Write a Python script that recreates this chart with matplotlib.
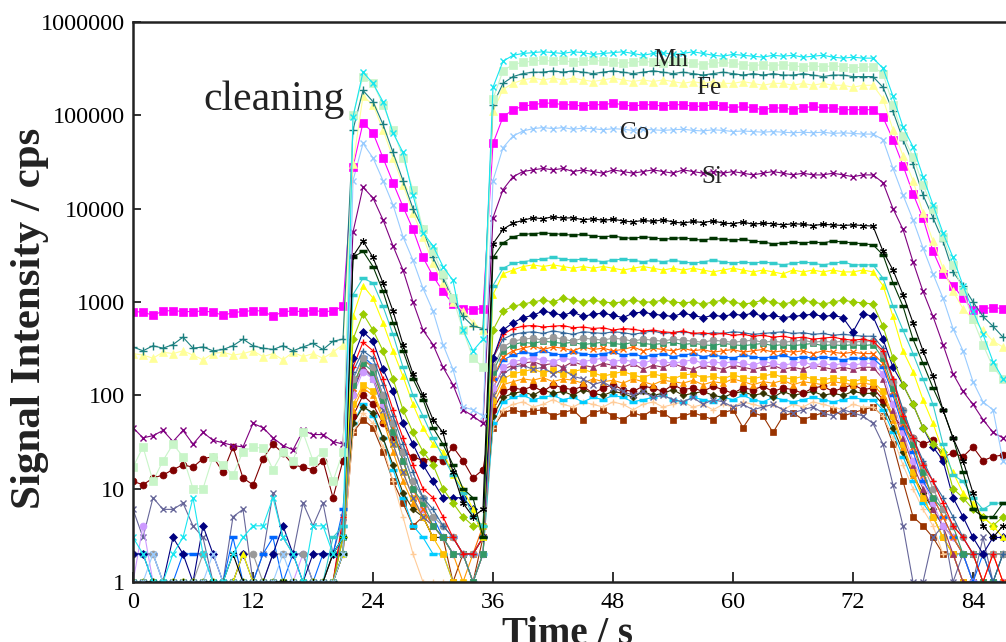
import numpy as np
import matplotlib
matplotlib.use("Agg")
import matplotlib.pyplot as plt

plt.rcParams['font.family'] = ['Liberation Serif', 'DejaVu Serif']

# time axis (s), one reading per second
time_s = np.arange(88)
x_ticks = [0, 12, 24, 36, 48, 60, 72, 84]
y_ticks = [1, 10, 100, 1000, 10000, 100000, 1000000]
y_tick_labels = ["1", "10", "100", "1000", "10000", "100000", "1000000"]

# ---- signal intensities (cps): gas blank 0-20 s, cleaning 21-35 s, ablation 36-74 s, washout 75-87 s
mn_x = ([3, 2, 1, 1, 2, 3, 8, 2, 1, 1, 2, 3, 4, 4, 8, 3, 2, 1, 4, 4, 2]
        + [3, 9.6e4, 2.9e5, 2.2e5, 1.4e5, 6.5e4, 4e4, 1.4e4, 5.5e3, 4e3, 2.4e3, 1.7e3, 500, 300, 400]
        + [2.0e5, 3.8e5, 4.4e5, 4.6e5, 4.7e5, 4.8e5, 4.7e5, 4.6e5, 4.8e5, 4.7e5, 4.5e5, 4.6e5, 4.7e5,
           4.8e5, 4.6e5, 4.4e5, 4.6e5, 4.7e5, 4.5e5, 4.6e5, 4.8e5, 4.6e5, 4.4e5, 4.3e5, 4.5e5, 4.4e5,
           4.3e5, 4.2e5, 4.4e5, 4.3e5, 4.4e5, 4.2e5, 4.3e5, 4.4e5, 4.2e5, 4.1e5, 4.2e5, 4.1e5, 4.1e5]
        + [3.2e5, 1.6e5, 7.5e4, 4.6e4, 2.2e4, 1.1e4, 5.5e3, 3e3, 1.5e3, 800, 450, 230, 150])
mn_sq = ([17, 28, 12, 20, 30, 22, 10, 10, 22, 18, 14, 25, 28, 27, 16, 25, 20, 40, 20, 25, 12]
         + [25, 1e5, 2.6e5, 2.2e5, 1.3e5, 7e4, 3.5e4, 1.6e4, 6e3, 3.5e3, 2e3, 1.1e3, 500, 250, 200]
         + [1.5e5, 3.0e5, 3.5e5, 3.7e5, 3.8e5, 3.9e5, 3.8e5, 3.9e5, 3.7e5, 3.8e5, 3.9e5, 3.8e5, 3.7e5,
            3.6e5, 3.7e5, 3.8e5, 3.7e5, 3.6e5, 3.8e5, 3.7e5, 3.6e5, 3.5e5, 3.6e5, 3.7e5, 3.6e5, 3.5e5,
            3.4e5, 3.5e5, 3.4e5, 3.5e5, 3.4e5, 3.3e5, 3.4e5, 3.3e5, 3.4e5, 3.3e5, 3.2e5, 3.3e5, 3.3e5]
         + [2.8e5, 1.3e5, 6e4, 3.6e4, 1.8e4, 1e4, 5e3, 2.5e3, 1.3e3, 650, 350, 200, 150])
fe_plus = ([330, 300, 340, 320, 350, 420, 320, 330, 300, 310, 340, 400, 340, 320, 310, 340, 300, 330, 360, 310, 380]
           + [400, 7e4, 1.85e5, 1.4e5, 8e4, 4e4, 2e4, 1e4, 6e3, 3e3, 1.8e3, 1.1e3, 700, 550, 520]
           + [1.3e5, 2.2e5, 2.6e5, 2.8e5, 2.9e5, 2.9e5, 3.0e5, 2.9e5, 3.0e5, 2.9e5, 2.8e5, 2.9e5, 3.0e5,
              2.9e5, 2.8e5, 2.9e5, 3.0e5, 2.9e5, 2.8e5, 2.9e5, 2.8e5, 2.7e5, 2.8e5, 2.9e5, 2.8e5, 2.7e5,
              2.8e5, 2.7e5, 2.8e5, 2.7e5, 2.7e5, 2.8e5, 2.7e5, 2.6e5, 2.7e5, 2.7e5, 2.6e5, 2.6e5, 2.6e5]
           + [2.0e5, 1.1e5, 5.5e4, 3e4, 1.4e4, 8e3, 4.5e3, 2.1e3, 1.5e3, 1e3, 700, 550, 420])
fe_tri = ([280, 270, 250, 290, 280, 300, 270, 240, 280, 290, 270, 280, 300, 260, 280, 240, 290, 260, 280, 250, 290]
          + [350, 3e4, 1.6e5, 1.3e5, 7e4, 3.5e4, 1.8e4, 9e3, 5e3, 2.6e3, 1.6e3, 1e3, 800, 600, 500]
          + [1.1e5, 1.9e5, 2.2e5, 2.4e5, 2.5e5, 2.4e5, 2.5e5, 2.4e5, 2.5e5, 2.4e5, 2.3e5, 2.4e5, 2.5e5,
             2.4e5, 2.3e5, 2.4e5, 2.3e5, 2.4e5, 2.3e5, 2.2e5, 2.3e5, 2.2e5, 2.3e5, 2.2e5, 2.2e5, 2.3e5,
             2.2e5, 2.1e5, 2.2e5, 2.2e5, 2.1e5, 2.2e5, 2.1e5, 2.2e5, 2.1e5, 2.1e5, 2.0e5, 2.1e5, 2.1e5]
          + [1.5e5, 7e4, 3.7e4, 2e4, 9e3, 4.5e3, 2.3e3, 1.3e3, 850, 650, 500, 380, 330])
magenta_sq = ([790, 780, 720, 800, 810, 790, 790, 800, 780, 720, 770, 790, 810, 800, 700, 790, 800, 790, 810, 790, 800]
              + [900, 2.8e4, 8.3e4, 6.5e4, 3.5e4, 1.9e4, 1.05e4, 6e3, 3e3, 1.9e3, 1.3e3, 950, 850, 830, 850]
              + [5.0e4, 9.6e4, 1.15e5, 1.25e5, 1.3e5, 1.35e5, 1.35e5, 1.3e5, 1.3e5, 1.25e5, 1.3e5, 1.3e5, 1.35e5,
                 1.3e5, 1.25e5, 1.3e5, 1.3e5, 1.25e5, 1.3e5, 1.3e5, 1.25e5, 1.25e5, 1.3e5, 1.25e5, 1.2e5, 1.25e5,
                 1.2e5, 1.15e5, 1.2e5, 1.2e5, 1.15e5, 1.2e5, 1.25e5, 1.2e5, 1.2e5, 1.15e5, 1.15e5, 1.15e5, 1.15e5]
              + [9.5e4, 5.5e4, 2.9e4, 1.45e4, 7.9e3, 3.5e3, 2e3, 1.5e3, 1.1e3, 830, 850, 870, 850])
co_x = ([1, 1, 2, 1, 1, 1, 1, 1, 2, 1, 1, 1, 1, 1, 1, 2, 1, 1, 1, 1, 1]
        + [2, 2e4, 5e4, 3.5e4, 2e4, 1.1e4, 5e3, 2.8e3, 1.4e3, 800, 350, 190, 75, 70, 60]
        + [2.0e4, 4.5e4, 6.0e4, 6.8e4, 7.2e4, 7.4e4, 7.2e4, 7.4e4, 7.1e4, 7.3e4, 7.2e4, 7.0e4, 7.2e4,
           7.1e4, 6.9e4, 7.1e4, 7.0e4, 6.9e4, 7.0e4, 7.1e4, 6.9e4, 6.8e4, 7.0e4, 6.9e4, 6.7e4, 6.8e4,
           6.7e4, 6.6e4, 6.7e4, 6.6e4, 6.5e4, 6.6e4, 6.5e4, 6.6e4, 6.4e4, 6.5e4, 6.4e4, 6.3e4, 6.3e4]
        + [5.5e4, 2.7e4, 1.4e4, 7.6e3, 3.8e3, 2e3, 1.1e3, 520, 300, 140, 85, 70, 20])
si_x = ([45, 35, 37, 42, 32, 42, 30, 40, 33, 31, 29, 28, 50, 45, 35, 29, 26, 42, 38, 38, 32]
        + [30, 5.6e3, 1.7e4, 1.3e4, 7.6e3, 4e3, 2.2e3, 1e3, 500, 350, 200, 130, 70, 60, 50]
        + [8e3, 1.6e4, 2.2e4, 2.5e4, 2.6e4, 2.7e4, 2.6e4, 2.7e4, 2.5e4, 2.6e4, 2.5e4, 2.4e4, 2.6e4,
           2.5e4, 2.4e4, 2.5e4, 2.6e4, 2.5e4, 2.4e4, 2.6e4, 2.5e4, 2.4e4, 2.5e4, 2.4e4, 2.5e4, 2.4e4,
           2.3e4, 2.4e4, 2.5e4, 2.4e4, 2.3e4, 2.4e4, 2.3e4, 2.3e4, 2.4e4, 2.3e4, 2.2e4, 2.3e4, 2.3e4]
        + [1.9e4, 1.0e4, 6e3, 2.7e3, 1.3e3, 700, 350, 170, 110, 80, 55, 40, 35])
black_ast = ([1, 1, 1, 1, 1, 1, 1, 1, 1, 1, 2, 1, 1, 1, 1, 1, 1, 1, 1, 1, 2]
             + [3, 3.1e3, 4.5e3, 3e3, 1.6e3, 800, 350, 170, 100, 55, 40, 15, 7, 5, 6]
             + [4.2e3, 6.0e3, 7.0e3, 7.5e3, 8.0e3, 7.8e3, 8.2e3, 7.9e3, 8.0e3, 7.6e3, 7.8e3, 7.5e3, 7.7e3,
                7.4e3, 7.2e3, 7.5e3, 7.3e3, 7.6e3, 7.2e3, 7.0e3, 7.3e3, 7.1e3, 7.4e3, 7.0e3, 6.9e3, 7.2e3,
                6.8e3, 7.0e3, 6.9e3, 6.7e3, 6.9e3, 6.8e3, 6.6e3, 6.8e3, 6.7e3, 6.6e3, 6.7e3, 6.6e3, 6.5e3]
             + [3.5e3, 2.2e3, 1.2e3, 600, 300, 160, 70, 35, 20, 9, 4, 3, 4])
dkgreen_bar = ([1, 1, 1, 1, 1, 1, 1, 1, 1, 1, 1, 1, 1, 1, 1, 1, 1, 1, 1, 1, 1]
               + [2, 3e3, 3.5e3, 2.4e3, 1.3e3, 600, 300, 150, 90, 45, 30, 18, 10, 8, 3]
               + [3.0e3, 4.3e3, 5.0e3, 5.3e3, 5.4e3, 5.5e3, 5.4e3, 5.3e3, 5.2e3, 5.3e3, 5.1e3, 5.0e3, 5.1e3,
                  4.9e3, 4.8e3, 5.0e3, 4.9e3, 4.7e3, 4.8e3, 4.9e3, 4.7e3, 4.6e3, 4.8e3, 4.7e3, 4.6e3, 4.7e3,
                  4.5e3, 4.4e3, 4.2e3, 4.3e3, 4.4e3, 4.3e3, 4.4e3, 4.3e3, 4.5e3, 4.4e3, 4.3e3, 4.2e3, 4.1e3]
               + [3.2e3, 1.6e3, 900, 400, 220, 120, 70, 35, 15, 6, 5, 5, 7])
teal_bar = ([1, 1, 1, 1, 1, 1, 1, 1, 1, 1, 1, 1, 1, 1, 1, 1, 1, 1, 1, 1, 3]
            + [4, 1.2e3, 1.8e3, 1.6e3, 900, 450, 200, 100, 60, 35, 22, 14, 9, 5, 4]
            + [1.5e3, 2.3e3, 2.6e3, 2.7e3, 2.8e3, 2.9e3, 3.0e3, 2.9e3, 2.8e3, 2.9e3, 2.8e3, 2.7e3, 2.8e3,
               2.9e3, 2.8e3, 2.7e3, 2.8e3, 2.7e3, 2.8e3, 2.7e3, 2.6e3, 2.7e3, 2.8e3, 2.7e3, 2.6e3, 2.7e3,
               2.6e3, 2.7e3, 2.6e3, 2.5e3, 2.6e3, 2.7e3, 2.6e3, 2.5e3, 2.6e3, 2.7e3, 2.5e3, 2.5e3, 2.5e3]
            + [1.8e3, 900, 500, 280, 150, 80, 30, 14, 12, 8, 6, 7, 7])
yellow_tri = ([1, 1, 1, 1, 1, 1, 1, 1, 1, 1, 1, 2, 1, 1, 1, 1, 1, 1, 1, 1, 1]
              + [2, 700, 1.5e3, 1.1e3, 600, 300, 160, 80, 45, 30, 25, 14, 10, 6, 3]
              + [1.2e3, 2.0e3, 2.2e3, 2.4e3, 2.5e3, 2.4e3, 2.5e3, 2.4e3, 2.3e3, 2.4e3, 2.3e3, 2.4e3, 2.3e3,
                 2.2e3, 2.3e3, 2.4e3, 2.3e3, 2.2e3, 2.3e3, 2.2e3, 2.3e3, 2.2e3, 2.1e3, 2.2e3, 2.3e3, 2.2e3,
                 2.1e3, 2.2e3, 2.1e3, 2.0e3, 2.2e3, 2.1e3, 2.2e3, 2.1e3, 2.2e3, 2.1e3, 2.1e3, 2.2e3, 2.1e3]
              + [1.5e3, 700, 300, 180, 90, 50, 25, 15, 9, 7, 5, 4, 3])
lime_dia = ([1, 1, 1, 1, 1, 1, 1, 1, 1, 1, 1, 1, 1, 1, 1, 1, 1, 1, 1, 1, 1]
            + [3, 400, 750, 500, 300, 150, 70, 40, 25, 18, 10, 7, 5, 4, 4]
            + [500, 800, 900, 950, 1000, 1050, 1000, 1100, 1050, 1000, 1050, 1000, 980, 1000, 1050, 1000,
               1000, 1050, 1000, 980, 1000, 950, 1000, 1050, 1000, 950, 980, 1050, 1000, 950, 1000, 1050,
               1000, 950, 1000, 1050, 1000, 980, 950]
            + [550, 250, 130, 80, 45, 30, 25, 10, 8, 6, 5, 4, 5])
navy_dia = ([2, 2, 1, 1, 3, 2, 1, 4, 2, 1, 1, 2, 1, 1, 2, 4, 2, 1, 2, 2, 2]
            + [3, 250, 480, 380, 190, 110, 50, 30, 18, 12, 8, 8, 8, 6, 3]
            + [250, 500, 600, 680, 720, 800, 760, 720, 780, 700, 740, 760, 720, 680, 760, 780, 740, 720,
               700, 760, 720, 680, 720, 700, 740, 720, 760, 700, 720, 680, 700, 720, 740, 700, 720, 680,
               480, 750, 700]
            + [400, 200, 130, 80, 45, 28, 20, 8, 5, 3, 2, 3, 3])
red_plus = ([1, 1, 1, 1, 1, 1, 1, 1, 1, 1, 1, 1, 1, 1, 1, 1, 1, 1, 1, 1, 1]
            + [5, 200, 370, 300, 150, 70, 35, 18, 10, 8, 5, 3, 2, 2, 3]
            + [250, 450, 520, 550, 560, 540, 550, 560, 530, 540, 520, 530, 500, 520, 510, 490, 500, 480,
               470, 490, 460, 470, 450, 460, 440, 450, 430, 440, 420, 430, 410, 420, 400, 410, 420, 400,
               390, 400, 380]
            + [300, 150, 60, 35, 18, 12, 7, 4, 3, 2, 1, 2, 1])
steel_plus = ([1, 1, 1, 1, 1, 1, 1, 1, 1, 1, 1, 1, 1, 1, 1, 1, 1, 1, 1, 1, 1]
              + [4, 180, 300, 250, 130, 60, 30, 15, 8, 6, 4, 3, 2, 2, 3]
              + [250, 400, 450, 470, 480, 460, 490, 470, 450, 480, 470, 460, 480, 470, 450, 470, 490, 460,
                 470, 480, 460, 450, 470, 460, 480, 470, 450, 460, 470, 480, 460, 470, 450, 460, 440, 450,
                 440, 430, 430]
              + [320, 150, 70, 35, 20, 12, 8, 5, 3, 2, 2, 1, 2])
gray_circ = ([2, 2, 2, 1, 1, 1, 1, 2, 1, 1, 1, 2, 2, 1, 2, 2, 2, 2, 1, 1, 2]
             + [3, 150, 250, 200, 100, 50, 25, 12, 8, 5, 4, 3, 2, 2, 3]
             + [200, 330, 380, 400, 410, 390, 420, 400, 380, 410, 400, 390, 410, 400, 380, 400, 390, 380,
                400, 390, 380, 370, 390, 380, 370, 380, 390, 370, 380, 370, 380, 390, 370, 380, 370, 380,
                370, 380, 380]
             + [280, 140, 70, 35, 18, 10, 6, 4, 3, 2, 2, 2, 2])
sea_sq = ([1, 1, 1, 1, 1, 1, 1, 1, 1, 1, 1, 1, 1, 1, 1, 1, 1, 1, 1, 1, 1]
          + [2, 130, 220, 180, 90, 40, 20, 10, 7, 4, 3, 2, 2, 1, 2]
          + [180, 300, 350, 370, 360, 380, 370, 360, 370, 350, 360, 370, 360, 350, 370, 360, 350, 360,
             370, 350, 360, 350, 340, 360, 350, 340, 350, 360, 340, 350, 340, 350, 360, 340, 350, 340,
             350, 340, 350]
          + [250, 120, 55, 30, 15, 8, 6, 4, 2, 2, 1, 1, 2])
orange_x = ([1, 1, 1, 1, 1, 1, 1, 1, 1, 1, 1, 1, 1, 1, 1, 1, 1, 1, 1, 1, 1]
            + [3, 120, 240, 200, 90, 45, 20, 10, 6, 4, 3, 3, 2, 2, 4]
            + [150, 260, 300, 320, 340, 310, 330, 320, 300, 330, 310, 320, 300, 310, 330, 300, 320, 310,
               300, 320, 300, 310, 290, 300, 310, 290, 300, 310, 290, 300, 290, 300, 280, 300, 290, 280,
               290, 280, 280]
            + [220, 110, 50, 28, 14, 8, 5, 3, 2, 2, 1, 2, 1])
blue_bar = ([2, 2, 2, 1, 1, 2, 2, 2, 1, 1, 3, 1, 1, 2, 3, 1, 2, 2, 1, 2, 2]
            + [6, 150, 260, 210, 100, 50, 24, 12, 8, 5, 3, 3, 2, 2, 3]
            + [150, 240, 270, 290, 280, 300, 280, 270, 290, 280, 270, 280, 290, 270, 280, 260, 270, 280,
               260, 270, 280, 260, 270, 260, 250, 270, 260, 250, 260, 270, 250, 260, 250, 260, 250, 240,
               250, 250, 250]
            + [200, 100, 45, 25, 12, 8, 5, 3, 2, 1, 2, 1, 1])
lilac_circ = ([1, 4, 1, 1, 1, 1, 1, 1, 1, 1, 1, 1, 1, 1, 1, 1, 1, 2, 1, 1, 1]
              + [2, 100, 180, 150, 80, 40, 20, 10, 6, 4, 3, 2, 2, 1, 2]
              + [120, 200, 230, 240, 250, 240, 230, 250, 240, 230, 240, 250, 230, 240, 230, 220, 240, 230,
                 220, 230, 240, 220, 230, 220, 230, 220, 210, 230, 220, 210, 220, 230, 210, 220, 210, 220,
                 210, 220, 220]
              + [170, 80, 40, 20, 12, 7, 4, 3, 2, 1, 1, 1, 1])
mauve_tri = ([1, 1, 1, 1, 1, 1, 1, 1, 1, 1, 1, 1, 1, 1, 1, 1, 1, 1, 1, 1, 1]
             + [2, 110, 200, 160, 80, 40, 20, 10, 6, 4, 3, 2, 2, 1, 2]
             + [120, 190, 210, 220, 230, 210, 220, 200, 230, 210, 200, 220, 210, 200, 220, 190, 210, 200,
                220, 200, 190, 210, 200, 190, 210, 200, 190, 200, 210, 190, 200, 190, 210, 200, 190, 200,
                190, 200, 200]
             + [150, 70, 35, 18, 10, 6, 4, 2, 1, 1, 1, 1, 1])
slate_x = ([6, 3, 8, 6, 6, 7, 4, 3, 1, 1, 5, 6, 1, 2, 9, 3, 2, 7, 4, 7, 2]
           + [5, 120, 200, 150, 70, 30, 15, 8, 5, 4, 3, 2, 2, 1, 2]
           + [100, 170, 200, 210, 190, 200, 170, 190, 160, 150, 130, 140, 120, 110, 100, 110, 95, 100,
              90, 85, 95, 80, 90, 85, 75, 80, 70, 75, 80, 70, 65, 70, 75, 65, 60, 70, 65, 60, 50]
           + [30, 11, 4, 1, 1, 3, 4, 1, 2, 1, 3, 1, 2])
gold_sq = ([1, 1, 1, 1, 1, 1, 1, 1, 1, 1, 1, 1, 1, 1, 1, 1, 1, 1, 1, 1, 1]
           + [2, 80, 130, 110, 60, 30, 15, 8, 5, 3, 2, 1, 1, 1, 2]
           + [90, 150, 170, 180, 190, 175, 185, 170, 180, 190, 175, 160, 170, 180, 165, 155, 170, 160,
              150, 165, 170, 155, 160, 150, 165, 155, 150, 160, 170, 155, 150, 160, 150, 145, 155, 150,
              140, 150, 140]
           + [110, 60, 30, 15, 8, 5, 3, 2, 1, 1, 1, 1, 1])
orange_tri = ([1, 1, 1, 1, 1, 1, 1, 1, 1, 1, 1, 1, 1, 1, 1, 1, 1, 1, 1, 1, 1]
              + [3, 70, 120, 100, 55, 25, 12, 7, 5, 4, 3, 2, 1, 2, 3]
              + [80, 130, 140, 150, 145, 155, 140, 150, 145, 135, 150, 140, 145, 135, 150, 140, 130, 145,
                 140, 135, 145, 130, 140, 135, 150, 140, 130, 140, 135, 145, 130, 140, 135, 130, 140, 135,
                 130, 135, 130]
              + [100, 55, 28, 14, 8, 5, 3, 2, 2, 1, 1, 1, 1])
maroon_circ = ([12, 11, 13, 14, 16, 18, 17, 21, 22, 15, 28, 13, 11, 21, 30, 24, 18, 17, 16, 20, 8]
               + [20, 60, 100, 80, 50, 35, 25, 22, 20, 21, 20, 28, 20, 13, 16]
               + [70, 110, 120, 115, 125, 110, 130, 120, 115, 125, 105, 120, 130, 115, 110, 125, 120, 110,
                  130, 115, 120, 110, 125, 115, 105, 120, 115, 125, 110, 120, 115, 105, 120, 125, 110, 120,
                  130, 115, 120]
               + [90, 60, 45, 35, 30, 33, 22, 24, 22, 28, 20, 22, 23])
olive_dia = ([1, 1, 1, 1, 1, 1, 1, 1, 1, 1, 1, 1, 1, 1, 1, 1, 1, 1, 1, 1, 2]
             + [3, 50, 75, 65, 35, 18, 9, 6, 5, 3, 3, 2, 2, 2, 3]
             + [60, 95, 105, 110, 100, 115, 105, 110, 100, 115, 105, 100, 110, 105, 95, 110, 100, 105,
                115, 100, 105, 110, 100, 95, 105, 110, 100, 105, 95, 110, 100, 105, 110, 100, 105, 100,
                110, 105, 105]
             + [80, 45, 25, 14, 9, 6, 4, 3, 2, 2, 2, 2, 2])
sky_bar = ([1, 1, 1, 1, 1, 1, 1, 1, 1, 1, 1, 1, 1, 1, 1, 1, 1, 1, 1, 1, 1]
           + [4, 50, 80, 60, 35, 16, 8, 4, 3, 2, 2, 1, 1, 1, 2]
           + [50, 85, 95, 100, 90, 95, 100, 90, 95, 85, 95, 90, 100, 95, 85, 90, 95, 100, 90, 85, 95,
              90, 85, 95, 90, 100, 90, 85, 95, 90, 85, 90, 95, 90, 85, 90, 95, 90, 90]
           + [70, 40, 22, 12, 7, 5, 3, 2, 2, 1, 1, 1, 1])
peach_plus = ([1, 1, 1, 1, 1, 1, 1, 1, 1, 1, 1, 1, 1, 1, 1, 1, 1, 1, 1, 1, 1]
              + [2, 40, 65, 50, 28, 12, 5, 2, 1, 1, 1, 1, 1, 1, 2]
              + [45, 70, 80, 85, 75, 80, 90, 80, 75, 85, 80, 75, 85, 80, 70, 80, 85, 75, 80, 85, 75, 80,
                 70, 80, 75, 85, 80, 75, 80, 70, 80, 75, 85, 80, 75, 70, 80, 75, 75]
              + [60, 35, 18, 10, 6, 4, 2, 2, 1, 1, 1, 1, 1])
brown_sq = ([1, 1, 1, 1, 1, 1, 1, 1, 1, 1, 1, 1, 1, 1, 1, 1, 1, 1, 1, 1, 1]
            + [2, 40, 55, 45, 25, 12, 7, 4, 5, 3, 3, 1, 2, 1, 3]
            + [45, 65, 70, 65, 68, 70, 60, 65, 70, 55, 65, 70, 60, 55, 65, 60, 70, 65, 55, 60, 65, 60,
               55, 65, 70, 45, 65, 60, 40, 60, 65, 55, 60, 65, 70, 60, 65, 70, 75]
            + [60, 30, 12, 5, 4, 3, 2, 2, 1, 1, 1, 1, 1])

# drawing order (bottom to top) and styles: (data, color, marker, size, edge width)
layers = [
    (brown_sq, '#993300', 's', 4.5, 0.5),
    (peach_plus, '#FFCC99', '+', 5, 1.0),
    (sky_bar, '#00CCFF', '_', 6, 2.5),
    (olive_dia, '#333300', 'D', 3.5, 0.5),
    (maroon_circ, '#800000', 'o', 5, 0.5),
    (orange_tri, '#FF9900', '^', 5, 0.5),
    (gold_sq, '#FFC000', 's', 5, 0.5),
    (slate_x, '#666699', 'x', 4.5, 1.0),
    (mauve_tri, '#993366', '^', 5, 0.5),
    (lilac_circ, '#CC99FF', 'o', 5, 0.5),
    (blue_bar, '#0066FF', '_', 6, 2.5),
    (orange_x, '#FF6600', 'x', 4.5, 1.0),
    (sea_sq, '#339966', 's', 4, 0.5),
    (gray_circ, '#999999', 'o', 5, 0.5),
    (steel_plus, '#336699', '+', 5, 1.0),
    (red_plus, '#FF0000', '+', 5, 1.0),
    (navy_dia, '#000080', 'D', 4, 0.5),
    (lime_dia, '#99CC00', 'D', 4, 0.5),
    (yellow_tri, '#FFFF00', '^', 5, 0.5),
    (teal_bar, '#33CCCC', '_', 6, 2.5),
    (dkgreen_bar, '#003300', '_', 6, 2.5),
    (black_ast, '#000000', (6, 2, 0), 5, 0.8),
    (si_x, '#800080', 'x', 4, 1.0),
    (co_x, '#99CCFF', 'x', 4.5, 1.0),
    (magenta_sq, '#FF00FF', 's', 5.5, 0.5),
    (fe_tri, '#FFFF99', '^', 5.5, 0.5),
    (fe_plus, '#1A7F7F', '+', 5.5, 1.0),
    (mn_sq, '#C8F5C8', 's', 6, 0.5),
    (mn_x, '#19E6F0', 'x', 4.5, 1.0),
]

fig = plt.figure(figsize=(10.06, 6.42), dpi=100)
ax = fig.add_axes([133 / 1006, 1 - 582 / 642, 1 - 133 / 1006, (582 - 22) / 642])

for vals, col, mk, ms, mew in layers:
    v = np.asarray(vals, dtype=float)
    ax.plot(time_s[:len(v)], v, color=col, lw=0.8, marker=mk, ms=ms,
            mec=col, mfc=col, mew=mew)

ax.set_yscale('log')
ax.set_ylim(1, 1e6)
ax.set_xlim(0, 87.3)
ax.set_xticks(x_ticks)
ax.set_xticklabels([str(v) for v in x_ticks])
ax.set_yticks(y_ticks)
ax.set_yticklabels(y_tick_labels)
ax.yaxis.set_minor_locator(matplotlib.ticker.NullLocator())
ax.tick_params(axis='both', direction='in', labelsize=17.5, width=1.3, colors='#222222',
               labelcolor='black')
ax.tick_params(axis='x', length=7, pad=7)
ax.tick_params(axis='y', length=6, pad=6)
for s in ['left', 'bottom', 'top']:
    ax.spines[s].set_linewidth(1.8)
    ax.spines[s].set_color('#222222')
ax.spines['right'].set_visible(False)

# annotations
ax.text(7.0, 1.14e5, 'cleaning', fontsize=30, va='baseline', ha='left', color='#222222')
ax.text(52.0, 3.9e5, 'Mn', fontsize=18, va='center', ha='left', color='#222222')
ax.text(56.3, 1.95e5, 'Fe', fontsize=18, va='center', ha='left', color='#222222')
ax.text(48.7, 6.5e4, 'Co', fontsize=18, va='center', ha='left', color='#222222')
ax.text(56.8, 2.2e4, 'Si', fontsize=18, va='center', ha='left', color='#222222')

fig.text(30 / 1006, 1 - 318 / 642, 'Signal Intensity / cps', rotation=90, ha='center',
         va='center', fontsize=31, fontweight='bold', color='#222222')
fig.text(567 / 1006, 1 - 616 / 642, 'Time / s', ha='center', va='top', fontsize=28,
         fontweight='bold', color='#222222')

fig.savefig('out.png', dpi=100)
